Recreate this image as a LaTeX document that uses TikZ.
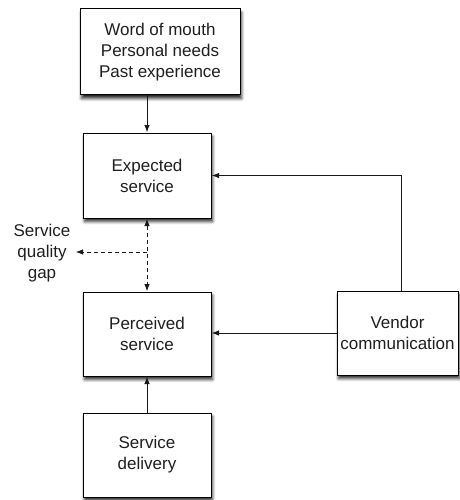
\documentclass[tikz,border=0pt]{standalone}
\usepackage{fontspec}
\setmainfont{Liberation Sans}
\usetikzlibrary{arrows.meta,shadows.blur}
\newcommand{\boxfont}{\fontsize{17}{21}\selectfont}
\tikzset{headtip/.tip={Latex[length=7.5pt,width=5.5pt]}}
\begin{document}
\begin{tikzpicture}[x=1pt,y=-1pt,
  box/.style={draw=black, line width=1pt, fill=white, align=center,
    inner sep=0pt, font=\boxfont, text=black!88,
    blur shadow={shadow xshift=1.5pt, shadow yshift=-3.5pt,
      shadow blur radius=3pt, shadow blur steps=6, shadow opacity=85}},
  conn/.style={draw=black!90, line width=1pt, -{headtip}},
  gapline/.style={draw=black!90, line width=1pt, dash pattern=on 4pt off 3pt}
]
\useasboundingbox (0,0) rectangle (459,500);

% boxes
\node[box, minimum width=160pt, minimum height=86pt] (top) at (160,52)
  {Word of mouth\\Personal needs\\Past experience};
\node[box, minimum width=128pt, minimum height=85pt] (exp) at (147,175.5)
  {Expected\\service};
\node[box, minimum width=128pt, minimum height=84pt] (perc) at (147,334)
  {Perceived\\service};
\node[box, minimum width=128pt, minimum height=84pt] (deliv) at (147,455)
  {Service\\delivery};
\node[box, minimum width=121pt, minimum height=84pt] (vendor) at (397.5,333)
  {Vendor\\communication};

% gap label
\node[font=\boxfont, text=black!88, align=center, inner xsep=5pt] (gap) at (42,253)
  {Service\\quality\\gap};

% connectors
\draw[conn] (top.south -| exp.north) -- (exp.north);
\draw[conn] ([xshift=3.5pt]vendor.north) |- (exp.east);
\draw[conn] (vendor.west) -- (vendor.west -| perc.east);
\draw[conn] (deliv.north) -- (perc.south);

% service quality gap
\coordinate (mid) at (147,252);
\draw[gapline, {headtip}-{headtip}] (exp.south) -- (perc.north);
\draw[gapline, -{headtip}] (mid) -- (mid -| gap.east);
\end{tikzpicture}
\end{document}
